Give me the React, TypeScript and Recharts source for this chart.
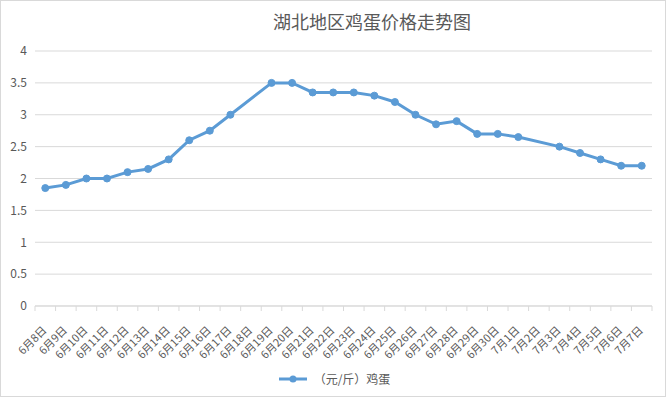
import { LineChart, Line, XAxis, YAxis, CartesianGrid } from "recharts";

const dates = [
  "6月8日", "6月9日", "6月10日", "6月11日", "6月12日", "6月13日", "6月14日", "6月15日",
  "6月16日", "6月17日", "6月18日", "6月19日", "6月20日", "6月21日", "6月22日", "6月23日",
  "6月24日", "6月25日", "6月26日", "6月27日", "6月28日", "6月29日", "6月30日",
  "7月1日", "7月2日", "7月3日", "7月4日", "7月5日", "7月6日", "7月7日",
];

const eggPrice: (number | null)[] = [
  1.85, 1.9, 2.0, 2.0, 2.1, 2.15, 2.3, 2.6, 2.75, 3.0, null, 3.5, 3.5, 3.35, 3.35,
  3.35, 3.3, 3.2, 3.0, 2.85, 2.9, 2.7, 2.7, 2.65, null, 2.5, 2.4, 2.3, 2.2, 2.2,
];

const yTicks = [0, 0.5, 1, 1.5, 2, 2.5, 3, 3.5, 4];

const seriesName = "（元/斤）鸡蛋";
const title = "湖北地区鸡蛋价格走势图";

const W = 666;
const H = 397;
const margin = { top: 51, right: 14, bottom: 31, left: 0 };
const yAxisWidth = 35;
const plotWidth = W - margin.left - margin.right - yAxisWidth;
const halfBand = plotWidth / dates.length / 2;

const font = '"Noto Sans CJK SC", "Noto Sans", sans-serif';
const textColor = "#595959";
const gridColor = "#d9d9d9";
const lineColor = "#5b9bd5";

const chartData = dates.map((d, i) => ({ date: d, price: eggPrice[i] }));

function DateTick(props: any) {
  const { x, y, payload, index } = props;
  const last = index === dates.length - 1;
  return (
    <g>
      <line x1={x - halfBand} y1={y - 8} x2={x - halfBand} y2={y - 3} stroke={gridColor} />
      {last && (
        <line x1={x + halfBand} y1={y - 8} x2={x + halfBand} y2={y - 3} stroke={gridColor} />
      )}
      <text
        x={x + 2}
        y={y + 17}
        textAnchor="end"
        fill={textColor}
        fontSize={11}
        fontFamily={font}
        transform={`rotate(-45, ${x + 2}, ${y + 17})`}
      >
        {payload.value}
      </text>
    </g>
  );
}

export default function App() {
  return (
    <div
      style={{
        position: "absolute",
        left: 0,
        top: 0,
        width: W,
        height: H,
        boxSizing: "border-box",
        border: `1px solid ${gridColor}`,
        background: "#fff",
        fontFamily: font,
      }}
    >
      <div
        style={{
          position: "absolute",
          top: 8,
          left: 271,
          width: 200,
          textAlign: "center",
          fontSize: 18,
          color: textColor,
          lineHeight: "24px",
          whiteSpace: "nowrap",
        }}
      >
        {title}
      </div>
      <div style={{ position: "absolute", left: -1, top: -1 }}>
        <LineChart width={W} height={H} data={chartData} margin={margin}>
          <CartesianGrid vertical={false} stroke={gridColor} />
          <XAxis
            dataKey="date"
            interval={0}
            padding={{ left: halfBand, right: halfBand }}
            stroke={gridColor}
            tickLine={false}
            tick={<DateTick />}
            height={60}
          />
          <YAxis
            width={yAxisWidth}
            domain={[0, 4]}
            ticks={yTicks}
            axisLine={false}
            tickLine={false}
            tick={{ fill: textColor, fontSize: 12, fontFamily: font }}
          />
          <Line
            dataKey="price"
            name={seriesName}
            stroke={lineColor}
            strokeWidth={3}
            connectNulls
            isAnimationActive={false}
            dot={{ r: 3.5, fill: lineColor, stroke: lineColor, strokeWidth: 1 }}
          />
        </LineChart>
      </div>
      <div
        style={{
          position: "absolute",
          top: 369,
          left: 0,
          width: W,
          display: "flex",
          justifyContent: "center",
          alignItems: "center",
          fontSize: 12,
          color: textColor,
        }}
      >
        <svg width={30} height={10} style={{ marginRight: 6 }}>
          <line x1={1} y1={5} x2={29} y2={5} stroke={lineColor} strokeWidth={3} />
          <circle cx={15} cy={5} r={3.5} fill={lineColor} />
        </svg>
        <span>{seriesName}</span>
      </div>
    </div>
  );
}
